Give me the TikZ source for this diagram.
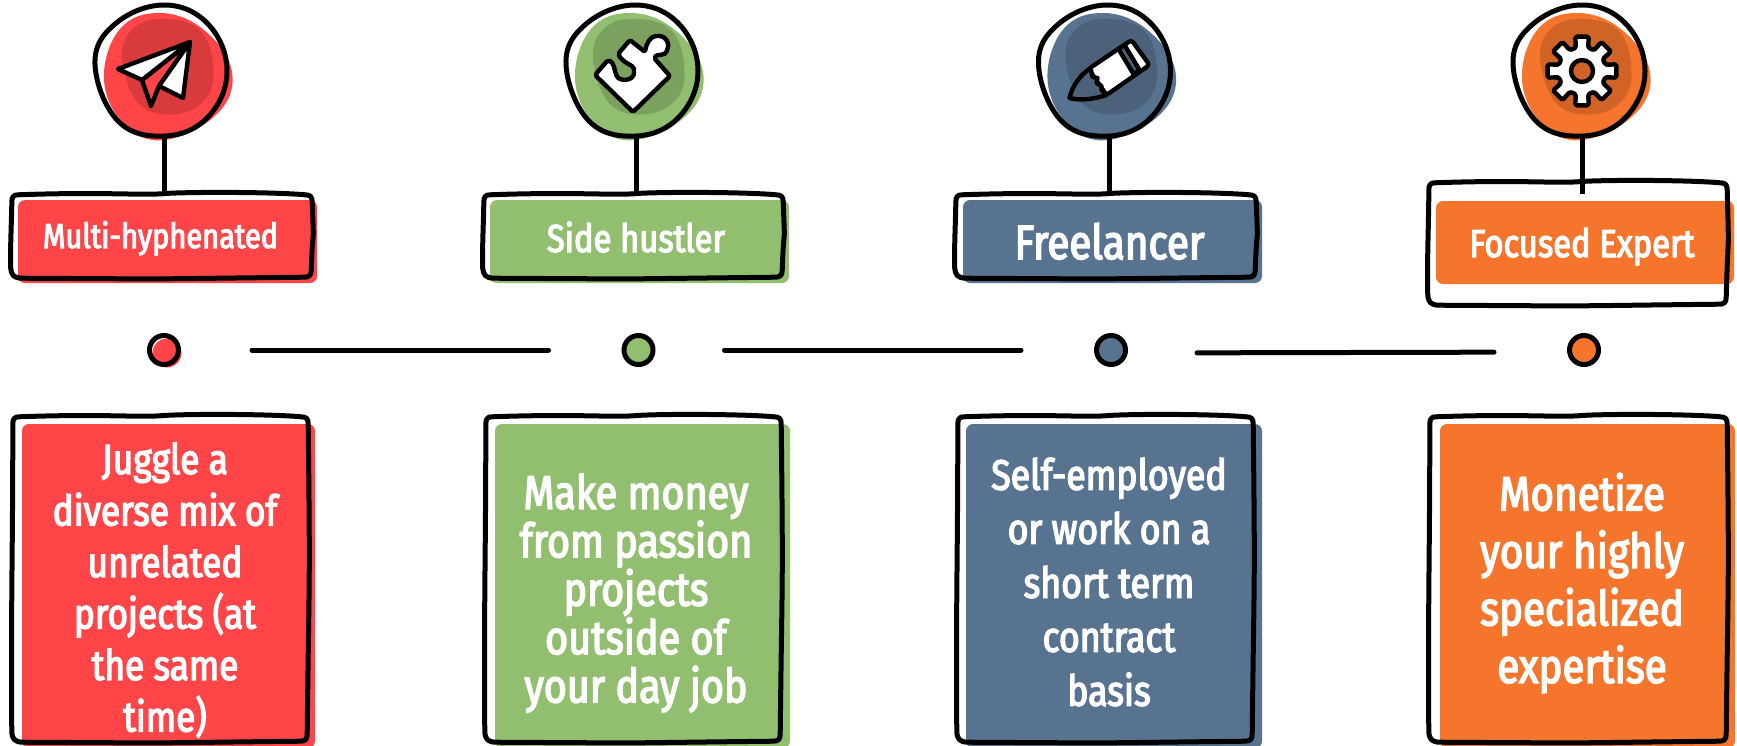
\documentclass[tikz,border=0pt]{standalone}
\usepackage{fontspec}
\setmainfont{Fira Sans}[FakeStretch=0.84,FakeBold=3.2]
\usetikzlibrary{positioning}
\definecolor{hustred}{HTML}{FF4548}
\definecolor{hustgreen}{HTML}{91BE6F}
\definecolor{hustblue}{HTML}{587390}
\definecolor{hustorange}{HTML}{F5752C}
\tikzset{
  sketchline/.style = {draw = black, line width = 5pt, line cap = round, line join = round},
  iconline/.style = {draw = black, line width = 4.4pt, line cap = round, line join = round},
  framenode/.style = {shape = rectangle, inner sep = 0pt},
  fillnode/.style = {shape = rectangle, rounded corners = 7pt, inner sep = 0pt},
  dotnode/.style = {shape = circle, draw = black, line width = 5pt, minimum size = 29pt, inner sep = 0pt},
  dotfill/.style = {shape = circle, minimum size = 29pt, inner sep = 0pt},
  badgenode/.style = {shape = circle, minimum size = 132pt, inner sep = 0pt},
  whitetext/.style = {text = white, align = center, inner sep = 0pt}
}
\newcommand{\sketchbadge}[3]{
  \begin{scope}[shift = {(#1)}, xshift = #2]
    \fill[#3] plot[smooth cycle, tension = 0.68] coordinates {(-1,-58) (43,-41) (71,1) (56,43) (3,69) (-37,53) (-57,8) (-41,-42)};
    \fill[#3!85!black] plot[smooth cycle, tension = 0.68] coordinates {(6,-52) (39,-41) (52,-7) (46,26) (16,43) (-22,33) (-39,-14) (-26,-44)};
    \draw[sketchline] plot[smooth cycle, tension = 0.68] coordinates {(3,-66) (47,-47) (66,0) (47,46) (4,65) (-43,50) (-66,-7) (-46,-47)};
  \end{scope}
}
\newcommand{\sketchframe}[1]{
  \draw[sketchline] ([shift = {(7,1)}]#1.north west)
    .. controls ([shift = {(-60,-2)}]#1.north) and ([shift = {(-25,1.5)}]#1.north) .. (#1.north)
    .. controls ([shift = {(20,-2)}]#1.north) and ([shift = {(-40,-2)}]#1.north east) .. ([shift = {(-7,1)}]#1.north east)
    .. controls ([shift = {(-2,1)}]#1.north east) and ([shift = {(0,3)}]#1.north east) .. ([shift = {(0,8)}]#1.north east)
    .. controls ([shift = {(2,20)}]#1.east) and ([shift = {(1,-20)}]#1.east) .. ([shift = {(-1,-8)}]#1.south east)
    .. controls ([shift = {(-1,-3)}]#1.south east) and ([shift = {(-3,-1)}]#1.south east) .. ([shift = {(-8,-1)}]#1.south east)
    .. controls ([shift = {(-40,1)}]#1.south) and ([shift = {(40,1)}]#1.south) .. ([shift = {(9,0)}]#1.south west)
    .. controls ([shift = {(3,-1)}]#1.south west) and ([shift = {(1,-3)}]#1.south west) .. ([shift = {(0,-9)}]#1.south west)
    .. controls ([shift = {(-1,20)}]#1.west) and ([shift = {(1,-20)}]#1.west) .. ([shift = {(1,8)}]#1.north west)
    .. controls ([shift = {(1,3)}]#1.north west) and ([shift = {(3,1)}]#1.north west) .. cycle;
}
\begin{document}
\begin{tikzpicture}[x = 1pt, y = -1pt]
\useasboundingbox (0,0) rectangle (1737,745);

\node[badgenode] (icon1) at (164,71) {};
\node[badgenode] (icon2) at (636,71) {};
\node[badgenode] (icon3) at (1109,71) {};
\node[badgenode] (icon4) at (1582,71) {};
\sketchbadge{icon1}{-3}{hustred}
\sketchbadge{icon2}{-4}{hustgreen}
\sketchbadge{icon3}{-4.5}{hustblue}
\sketchbadge{icon4}{-3}{hustorange}

\begin{scope}[shift = {(icon1)}, xshift = -3]
\draw[iconline, fill = hustred] (-19,9) -- (-10,35) -- (-2,15) -- (29,-29) -- cycle;
\draw[iconline, fill = white] (29,-29) -- (-43,-2) -- (-19,9) -- cycle;
\draw[iconline, fill = white] (29,-29) -- (22,27) -- (-2,15) -- cycle;
\end{scope}

\begin{scope}[shift = {(icon2)}, xshift = -4]
\draw[iconline, fill = white, rounded corners = 2pt] (-37,4) -- (-24,-11) .. controls (-18,-8) and (-18,-3) .. (-16,3) .. controls (-13,11) and (2,10) .. (2,0) .. controls (2,-6) and (-8,-7) .. (-14,-17) -- (-2,-31) -- (13,-19) .. controls (14,-26) and (18,-35) .. (26,-35) .. controls (33,-35) and (38,-28) .. (35,-21) .. controls (33,-15) and (25,-17) .. (22,-13) -- (38,5) -- (1,41) -- cycle;
\end{scope}

\begin{scope}[shift = {(icon3)}, xshift = -4.5]
\draw[iconline, fill = white, rounded corners = 3pt] (-16,-2) -- (27,-31) -- (45,-6) -- (2,24) -- cycle;
\draw[iconline, fill = hustblue!85!black] (-35,27) .. controls (-32,14) and (-24,4) .. (-14,-3) -- (-12,6) -- (-7,7) -- (-8,12) -- (-3,15) -- (-3,19) -- (2,24) .. controls (-10,28) and (-24,30) .. (-35,27) -- cycle;
\draw[iconline, fill = hustblue!85!black] (14,-22) -- (20,-26) -- (35,-1) -- (29,3) -- cycle;
\end{scope}

\begin{scope}[shift = {(icon4)}, xshift = 0]
\draw[iconline, fill = white, rounded corners = 1.5pt] (-15:24) \foreach \a in {0,45,...,315} { -- (\a-15:24) -- (\a-11:35) -- (\a+11:35) -- (\a+15:24) } -- cycle;
\draw[iconline, fill = hustorange!85!black] (0,0) circle (11);
\end{scope}

\node[fillnode, fill = hustred, minimum width = 299pt, minimum height = 83pt] (labelfill1) at (167.5,241.5) {};
\node[fillnode, fill = hustgreen, minimum width = 299pt, minimum height = 83pt] (labelfill2) at (639.5,241.5) {};
\node[fillnode, fill = hustblue, minimum width = 299pt, minimum height = 83pt] (labelfill3) at (1112.5,241.5) {};
\node[fillnode, fill = hustorange, minimum width = 298pt, minimum height = 83pt] (labelfill4) at (1585,242.5) {};

\node[framenode, minimum width = 301pt, minimum height = 84pt] (frame1) at (161.5,236) {};
\node[framenode, minimum width = 300pt, minimum height = 84pt] (frame2) at (633,236) {};
\node[framenode, minimum width = 301pt, minimum height = 84pt] (frame3) at (1105.5,236) {};
\node[framenode, minimum width = 299pt, minimum height = 123pt] (frame4) at (1577.5,243.5) {};
\sketchframe{frame1}
\sketchframe{frame2}
\sketchframe{frame3}
\sketchframe{frame4}

\draw[sketchline, line cap = butt] (icon1.south) -- (icon1.south |- frame1.north);
\draw[sketchline, line cap = butt] (icon2.south) -- (icon2.south |- frame2.north);
\draw[sketchline, line cap = butt] (icon3.south) -- (icon3.south |- frame3.north);
\draw[sketchline, line cap = butt, shorten >= -12pt] (icon4.south) -- (icon4.south |- frame4.north);

\node[whitetext, anchor = base, font = \fontsize{34.5}{36}\selectfont] (title1) at (160.5,248) {Multi-hyphenated};
\node[whitetext, anchor = base, font = \fontsize{39}{39}\selectfont] (title2) at (636,252) {Side hustler};
\node[whitetext, anchor = base, font = \fontsize{48}{48}\selectfont] (title3) at (1109.5,259) {Freelancer};
\node[whitetext, anchor = base, font = \fontsize{39}{39}\selectfont] (title4) at (1582,257) {Focused Expert};

\node[dotfill, fill = hustred] (dotfill1) at (167,353) {};
\node[dotfill, fill = hustgreen] (dotfill2) at (639,352) {};
\node[dotfill, fill = hustblue] (dotfill3) at (1111.5,352) {};
\node[dotfill, fill = hustorange] (dotfill4) at (1584,352) {};
\node[dotnode] (dot1) at (164,350) {};
\node[dotnode] (dot2) at (638.5,350) {};
\node[dotnode] (dot3) at (1111,350) {};
\node[dotnode] (dot4) at (1584,350) {};

\draw[sketchline, shorten < = 71pt, shorten > = 73pt] (dot1.east) -- (dot2.west);
\draw[sketchline, shorten < = 69pt, shorten > = 73pt] (dot2.east) -- (dot3.west);
\draw[sketchline, shorten < = 69pt, shorten > = 73pt] ([yshift = -3pt]dot3.east) -- ([yshift = -2pt]dot4.west);

\node[fillnode, fill = hustred, minimum width = 293pt, minimum height = 324pt] (bodyfill1) at (168.5,586) {};
\node[fillnode, fill = hustgreen, minimum width = 295pt, minimum height = 324pt] (bodyfill2) at (642.5,586) {};
\node[fillnode, fill = hustblue, minimum width = 296pt, minimum height = 324pt] (bodyfill3) at (1114,586) {};
\node[fillnode, fill = hustorange, minimum width = 295pt, minimum height = 324pt] (bodyfill4) at (1587.5,586) {};

\node[framenode, minimum width = 296pt, minimum height = 326pt] (bodyframe1) at (160,579) {};
\node[framenode, minimum width = 296pt, minimum height = 326pt] (bodyframe2) at (633,579) {};
\node[framenode, minimum width = 296pt, minimum height = 326pt] (bodyframe3) at (1105,579) {};
\node[framenode, minimum width = 298pt, minimum height = 326pt] (bodyframe4) at (1578,579) {};
\sketchframe{bodyframe1}
\sketchframe{bodyframe2}
\sketchframe{bodyframe3}
\sketchframe{bodyframe4}

\node[whitetext, font = \fontsize{42}{51.5}\selectfont] (bodytext1) at (165,590) {Juggle a\\diverse mix of\\unrelated\\projects (at\\the same\\time)};
\node[whitetext, font = \fontsize{47}{48.4}\selectfont] (bodytext2) at (636,593) {Make money\\from passion\\projects\\outside of\\your day job};
\node[whitetext, font = \fontsize{42.5}{54}\selectfont] (bodytext3) at (1109,582) {Self-employed\\or work on a\\short term\\contract\\basis};
\node[whitetext, font = \fontsize{48}{57.5}\selectfont] (bodytext4) at (1582,583) {Monetize\\your highly\\specialized\\expertise};
\end{tikzpicture}
\end{document}
